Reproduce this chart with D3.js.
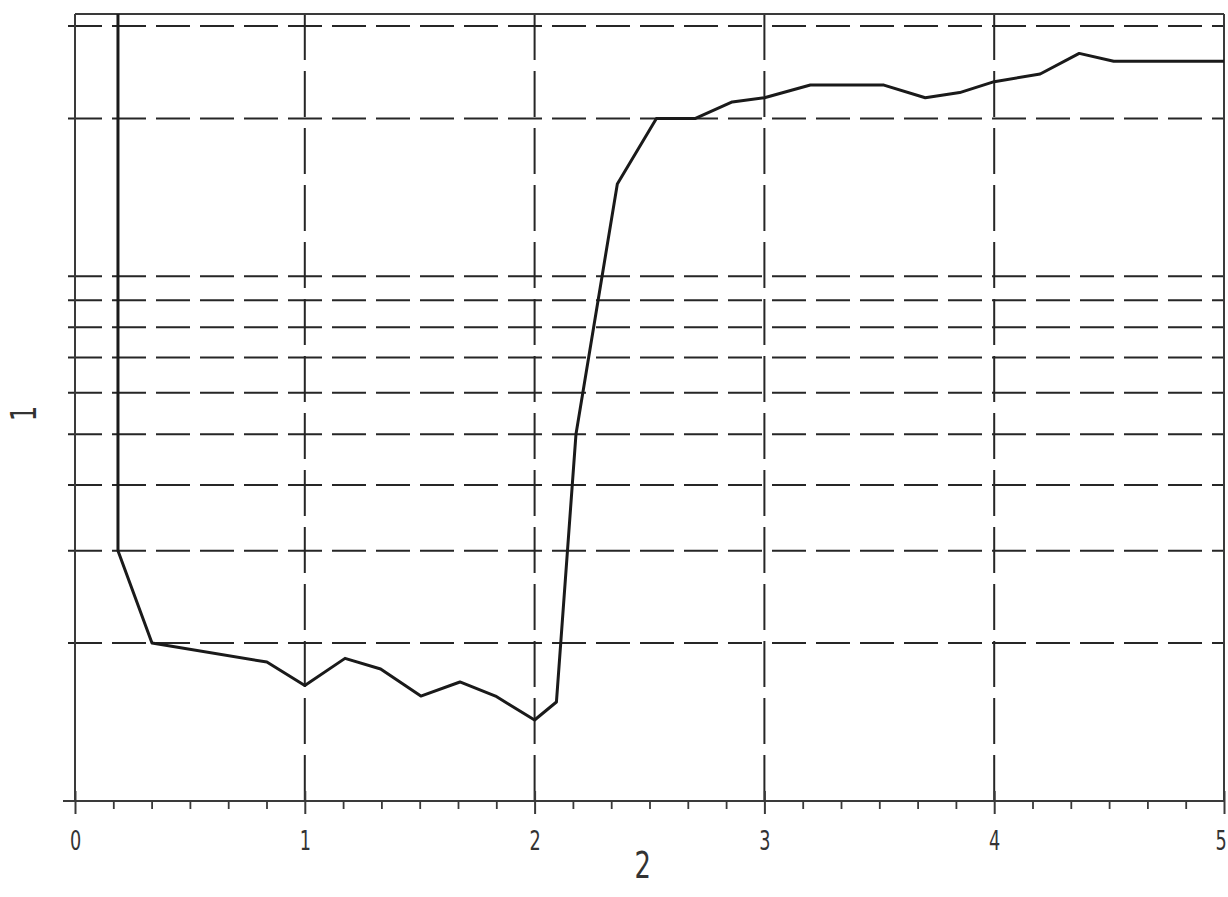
<!DOCTYPE html>
<html>
<head>
<meta charset="utf-8">
<script src="https://cdn.jsdelivr.net/npm/d3@7"></script>
<style>
  html, body { margin: 0; padding: 0; background: #fff; }
  svg { display: block; }
  .tick-label, .axis-title { font-family: "DejaVu Sans", sans-serif; fill: #333; }
</style>
</head>
<body>
<div id="chart"></div>
<script>
// curve (x in axis units, y on the log axis)
const curveX = [0.187, 0.187, 0.335, 0.835, 1.0, 1.175, 1.33, 1.505, 1.675, 1.83, 2.0, 2.095, 2.18, 2.36, 2.53, 2.7, 2.86, 3.0, 3.2, 3.52, 3.7, 3.85, 4.0, 4.2, 4.37, 4.52, 5.0];
const curveY = [31.62, 3.0, 2.0, 1.84, 1.66, 1.87, 1.785, 1.585, 1.686, 1.585, 1.427, 1.544, 5.0, 15.0, 20.0, 20.0, 21.5, 21.9, 23.15, 23.15, 21.9, 22.4, 23.5, 24.3, 26.6, 25.7, 25.7];

const xTicks = [0, 1, 2, 3, 4, 5];
const xGrid = [1, 2, 3, 4];
const yGrid = [2, 3, 4, 5, 6, 7, 8, 9, 10, 20, 30];
const xTitle = "2";
const yTitle = "1";

const width = 1228;
const height = 897;
const marginLeft = 75;
const marginRight = 4;
const marginTop = 14;
const marginBottom = 96;

const x = d3.scaleLinear().domain([0, 5]).range([marginLeft, width - marginRight]);
const y = d3.scaleLog().domain([1, Math.pow(10, 1.5)]).range([height - marginBottom, marginTop]);

const svg = d3.select("#chart").append("svg").attr("width", width).attr("height", height);

const [y0, y1] = y.range();
const [x0, x1] = x.range();

// dashed grid
svg.append("g")
  .selectAll("line")
  .data(yGrid)
  .join("line")
  .attr("x1", x0 - 7)
  .attr("x2", x1)
  .attr("y1", (d) => y(d))
  .attr("y2", (d) => y(d))
  .attr("stroke", "#262626")
  .attr("stroke-width", 2)
  .attr("stroke-dasharray", "34,10");

svg.append("g")
  .selectAll("line")
  .data(xGrid)
  .join("line")
  .attr("x1", (d) => x(d))
  .attr("x2", (d) => x(d))
  .attr("y1", y1)
  .attr("y2", y0)
  .attr("stroke", "#262626")
  .attr("stroke-width", 2)
  .attr("stroke-dasharray", "46,11");

// frame
const frame = svg.append("g").attr("stroke", "#3a3a3a").attr("stroke-width", 2).attr("fill", "none");
frame.append("line").attr("x1", x0).attr("x2", x1).attr("y1", y1).attr("y2", y1);
frame.append("line").attr("x1", x1).attr("x2", x1).attr("y1", y1).attr("y2", y0);
frame.append("line").attr("x1", x0).attr("x2", x0).attr("y1", y1).attr("y2", y0);

// x axis: minor ticks every 1/6, major ticks crossing the axis
const minor = d3.range(0, 31).map((i) => i / 6).filter((_, i) => i % 6 !== 0);

svg.append("g")
  .attr("transform", `translate(0,${y0})`)
  .call(d3.axisBottom(x).tickValues(minor).tickSize(8).tickFormat(""))
  .call((g) => g.select(".domain").remove())
  .call((g) => g.selectAll(".tick line").attr("stroke", "#3a3a3a").attr("stroke-width", 1.8));

svg.append("g")
  .attr("transform", `translate(0,${y0})`)
  .call(d3.axisBottom(x).tickValues(xTicks).tickSize(13).tickPadding(18).tickFormat(d3.format("d")))
  .call((g) => g.select(".domain").remove())
  .call((g) => g.selectAll(".tick line").attr("y1", -10).attr("stroke", "#3a3a3a").attr("stroke-width", 2))
  .call((g) =>
    g.selectAll(".tick text")
      .attr("class", "tick-label")
      .attr("font-size", 26)
      .attr("font-family", null)
      .attr("fill", null)
      .attr("transform", "scale(0.68,1)")
      .attr("dx", (d) => (d === 5 ? -5 : 0))
  );

svg.append("line")
  .attr("x1", x0 - 12)
  .attr("x2", x1)
  .attr("y1", y0)
  .attr("y2", y0)
  .attr("stroke", "#3a3a3a")
  .attr("stroke-width", 2);

// curve
const line = d3.line()
  .x((i) => x(curveX[i]))
  .y((i) => y(curveY[i]));

svg.append("path")
  .datum(d3.range(curveX.length))
  .attr("d", line)
  .attr("fill", "none")
  .attr("stroke", "#1a1a1a")
  .attr("stroke-width", 3)
  .attr("stroke-linejoin", "round");

// axis titles, drawn narrow like the stencil lettering
svg.append("g")
  .attr("transform", `translate(${x(2.47)},878) scale(0.68,1)`)
  .append("text")
  .attr("class", "axis-title")
  .attr("text-anchor", "middle")
  .attr("font-size", 38)
  .text(xTitle);

svg.append("g")
  .attr("transform", `translate(36,${(y(5) + y(6)) / 2}) rotate(-90) scale(0.68,1)`)
  .append("text")
  .attr("class", "axis-title")
  .attr("text-anchor", "middle")
  .attr("font-size", 36)
  .text(yTitle);
</script>
</body>
</html>
